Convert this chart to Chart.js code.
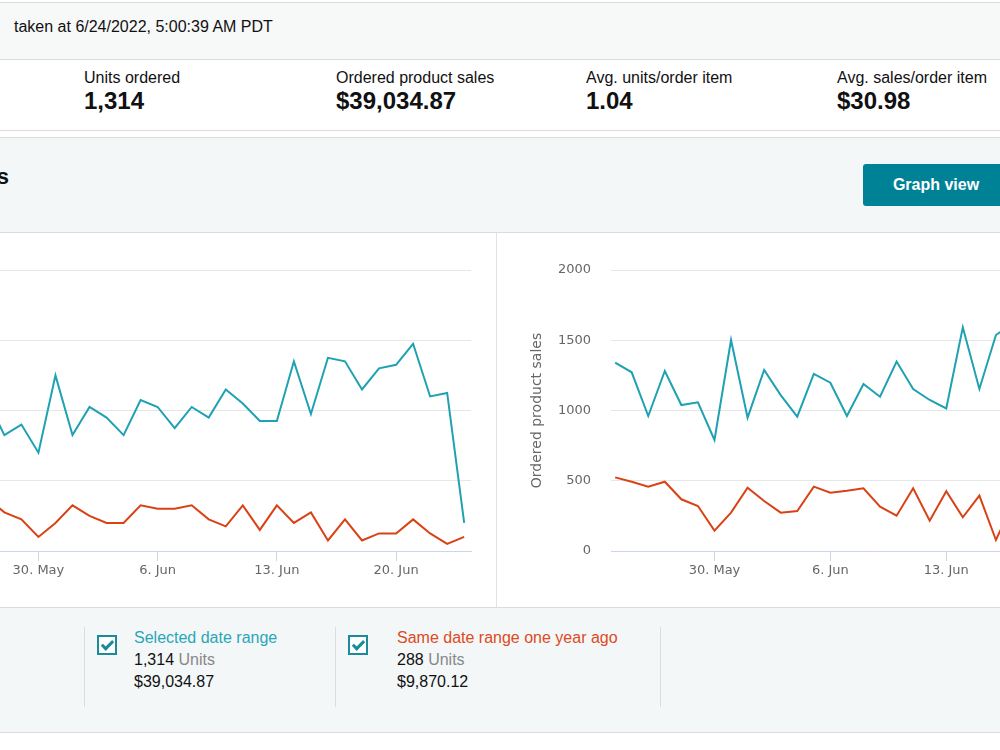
<!DOCTYPE html>
<html>
<head>
<meta charset="utf-8">
<script src="https://cdn.jsdelivr.net/npm/chart.js@4.4.0/dist/chart.umd.min.js"></script>
<style>
  body { margin: 0; width: 1000px; height: 750px; overflow: hidden; position: relative;
         background: #fff; font-family: "Liberation Sans", Arial, sans-serif; color: #111; }
  .abs { position: absolute; white-space: nowrap; }
  .band { position: absolute; left: 0; width: 1000px; }
  .hline { position: absolute; left: 0; width: 1000px; height: 1px; background: #dcdcdc; }
  .vline { position: absolute; width: 1px; background: #dddddd; }
  .lbl { font-size: 16px; line-height: 18px; }
  .val { font-size: 24px; line-height: 28px; font-weight: bold; }
  .btn { position: absolute; left: 863px; top: 164px; width: 146px; height: 42px; background: #008296;
         border-radius: 3px; color: #fff; font-size: 16px; font-weight: bold; line-height: 42px; text-align: center; }
  .chk { position: absolute; width: 16px; height: 16px; border: 2px solid #1b8a99; background: #fff; }
  .chk::after { content: ""; position: absolute; left: 5px; top: 1px; width: 4px; height: 9px;
                border-right: 3px solid #1b8a99; border-bottom: 3px solid #1b8a99; transform: rotate(45deg); }
  .leg { font-size: 16px; line-height: 22px; }
  .muted { color: #888; }
  canvas { position: absolute; }
</style>
</head>
<body>
<!-- header strip -->
<div class="band" style="top:3px;height:56px;background:#f7f8f8;"></div>
<div class="hline" style="top:2px;"></div>
<div class="hline" style="top:59px;"></div>
<div class="abs lbl" style="left:14px;top:18px;">taken at 6/24/2022, 5:00:39 AM PDT</div>

<!-- metric tiles -->
<div class="abs lbl" style="left:84px;top:69px;">Units ordered</div>
<div class="abs val" style="left:84px;top:87px;">1,314</div>
<div class="abs lbl" style="left:336px;top:69px;">Ordered product sales</div>
<div class="abs val" style="left:336px;top:87px;">$39,034.87</div>
<div class="abs lbl" style="left:586px;top:69px;">Avg. units/order item</div>
<div class="abs val" style="left:586px;top:87px;">1.04</div>
<div class="abs lbl" style="left:837px;top:69px;">Avg. sales/order item</div>
<div class="abs val" style="left:837px;top:87px;">$30.98</div>
<div class="hline" style="top:130px;"></div>

<!-- section heading -->
<div class="band" style="top:138px;height:94px;background:#f4f7f8;"></div>
<div class="hline" style="top:137px;"></div>
<div class="abs" style="right:991px;top:164px;font-size:22px;line-height:25px;font-weight:bold;">Compare Sales</div>
<div class="btn">Graph view</div>
<div class="hline" style="top:232px;"></div>

<!-- charts -->
<canvas id="unitsChart" width="678" height="374" style="left:-182px;top:233px;"></canvas>
<canvas id="salesChart" width="663" height="374" style="left:497px;top:233px;"></canvas>
<div class="vline" style="left:496px;top:233px;height:374px;background:#e2e2e2;"></div>

<!-- legend strip -->
<div class="band" style="top:608px;height:124px;background:#f3f7f8;"></div>
<div class="hline" style="top:607px;"></div>
<div class="hline" style="top:732px;"></div>
<div class="vline" style="left:84px;top:627px;height:80px;"></div>
<div class="vline" style="left:335px;top:627px;height:80px;"></div>
<div class="vline" style="left:660px;top:627px;height:80px;"></div>

<div class="chk" style="left:97px;top:635px;"></div>
<div class="abs leg" style="left:134px;top:627px;">
  <div style="color:#2aa6b7;">Selected date range</div>
  <div>1,314 <span class="muted">Units</span></div>
  <div>$39,034.87</div>
</div>
<div class="chk" style="left:348px;top:635px;"></div>
<div class="abs leg" style="left:397px;top:627px;">
  <div style="color:#de4a22;">Same date range one year ago</div>
  <div>288 <span class="muted">Units</span></div>
  <div>$9,870.12</div>
</div>

<script>
// days shown on the x axis (24 May - 24 Jun)
const dates = ['24. May', '25. May', '26. May', '27. May', '28. May', '29. May', '30. May', '31. May',
  '1. Jun', '2. Jun', '3. Jun', '4. Jun', '5. Jun', '6. Jun', '7. Jun', '8. Jun', '9. Jun', '10. Jun',
  '11. Jun', '12. Jun', '13. Jun', '14. Jun', '15. Jun', '16. Jun', '17. Jun', '18. Jun', '19. Jun',
  '20. Jun', '21. Jun', '22. Jun', '23. Jun', '24. Jun'];
const xTickLabels = ['30. May', '6. Jun', '13. Jun', '20. Jun'];

// units ordered
const unitsSelected = [44, 42, 32, 43, 33, 36, 28, 50, 33, 41, 38, 33, 43, 41, 35, 41, 38, 46, 42, 37,
  37, 54, 39, 55, 54, 46, 52, 53, 59, 44, 45, 8];
const unitsLastYear = [15, 14, 13, 15, 11, 9, 4, 8, 13, 10, 8, 8, 13, 12, 12, 13, 9, 7, 13, 6,
  13, 8, 11, 3, 9, 3, 5, 5, 9, 5, 2, 4];
const unitsTicks = [0, 20, 40, 60, 80];

// ordered product sales
const salesSelected = [1340, 1272, 961, 1281, 1039, 1058, 790, 1502, 949, 1288, 1110, 956, 1260, 1198,
  961, 1189, 1098, 1348, 1153, 1075, 1015, 1592, 1153, 1537, 1620, 1390, 1570, 1600, 1780, 1330, 1360, 250];
const salesLastYear = [524, 493, 458, 493, 368, 320, 145, 273, 451, 356, 273, 285, 458, 415, 429, 446,
  315, 251, 446, 216, 425, 240, 394, 78, 330, 95, 155, 160, 285, 155, 65, 125];
const salesTicks = [0, 500, 1000, 1500, 2000];

const teal = '#1fa1b2';
const red = '#d94215';
const axisFont = { family: '"DejaVu Sans", Verdana, sans-serif', size: 13 };

function toPoints(values) {
    return values.map((v, i) => ({ x: i, y: v }));
}

function makeChart(canvasId, selected, lastYear, yTicks, yTitle) {
    const ctx = document.getElementById(canvasId);
    return new Chart(ctx, {
        type: 'line',
        data: {
            datasets: [{
                label: 'Selected date range',
                data: toPoints(selected),
                borderColor: teal,
                borderWidth: 2,
                pointRadius: 0,
                tension: 0
            }, {
                label: 'Same date range one year ago',
                data: toPoints(lastYear),
                borderColor: red,
                borderWidth: 2,
                pointRadius: 0,
                tension: 0
            }]
        },
        options: {
            responsive: false,
            animation: false,
            layout: { padding: { top: 37, right: 25, left: 0, bottom: 0 } },
            plugins: { legend: { display: false }, tooltip: { enabled: false } },
            scales: {
                x: {
                    type: 'linear',
                    min: -0.25,
                    max: 31.4,
                    afterBuildTicks: axis => {
                        axis.ticks = xTickLabels.map(d => ({ value: dates.indexOf(d) }));
                    },
                    afterFit: axis => { axis.height = 56; },
                    ticks: {
                        autoSkip: false,
                        maxRotation: 0,
                        padding: 2,
                        color: '#666',
                        font: axisFont,
                        callback: v => dates[v]
                    },
                    grid: { drawOnChartArea: false, drawTicks: true, tickLength: 10, color: '#ccd6eb' },
                    border: { display: true, color: '#ccd6eb', width: 1 }
                },
                y: {
                    min: yTicks[0],
                    max: yTicks[yTicks.length - 1],
                    afterBuildTicks: axis => {
                        axis.ticks = yTicks.map(v => ({ value: v }));
                    },
                    afterFit: axis => { axis.width = 114; },
                    ticks: { padding: 20, color: '#666', font: axisFont, callback: v => String(v) },
                    grid: { color: '#e6e6e6', drawTicks: false },
                    border: { display: false },
                    title: {
                        display: true,
                        text: yTitle,
                        color: '#666',
                        font: { family: '"DejaVu Sans", Verdana, sans-serif', size: 14 },
                        padding: { top: 32, bottom: 0 }
                    }
                }
            }
        }
    });
}

makeChart('unitsChart', unitsSelected, unitsLastYear, unitsTicks, 'Units ordered');
makeChart('salesChart', salesSelected, salesLastYear, salesTicks, 'Ordered product sales');
</script>
</body>
</html>
